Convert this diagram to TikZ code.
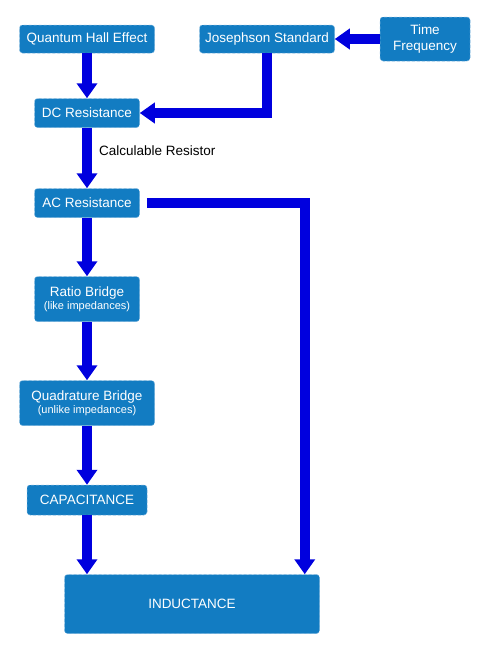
\documentclass[tikz,border=0pt]{standalone}
\usepackage{fontspec}
\setmainfont{Liberation Sans}
\usetikzlibrary{arrows.meta, positioning, calc}
\definecolor{BoxBlue}{RGB}{18,124,194}
\definecolor{BoxEdge}{RGB}{120,178,220}
\definecolor{FlowBlue}{RGB}{0,0,222}
\newcommand{\subnote}[1]{{\fontsize{11}{12.5}\selectfont #1}}

\begin{document}
\begin{tikzpicture}[
    x=1pt,
    y=-1pt,
    font=\fontsize{13.5}{15.5}\selectfont,
    block/.style={rectangle, rounded corners=3pt, fill=BoxBlue, draw=BoxEdge,
      densely dashed, line width=0.5pt, text=white, align=center, inner sep=0pt},
    flow/.style={draw=FlowBlue, line width=9.5pt, solid,
      -{Triangle[width=20pt,length=15pt]}}
]
\useasboundingbox (0,0) rectangle (492,648);

% Standards row
\node[block, minimum width=135, minimum height=28] (qhe) at (87,39) {Quantum Hall Effect};
\node[block, minimum width=135, minimum height=28] (js) at (267,39) {Josephson Standard};
\node[block, minimum width=90, minimum height=44] (tf) at (425,39) {Time\\Frequency};

% Resistance chain
\node[block, minimum width=105, minimum height=29] (dc) at (87,113) {DC Resistance};
\node[block, minimum width=105, minimum height=29] (ac) at (87,203) {AC Resistance};

% Bridges
\node[block, minimum width=105, minimum height=45] (ratio) at (87,299)
  {Ratio Bridge\\[-2pt]\subnote{(like impedances)}};
\node[block, minimum width=135, minimum height=45] (quad) at (87,403)
  {Quadrature Bridge\\[-2pt]\subnote{(unlike impedances)}};

% Outputs
\node[block, minimum width=120, minimum height=30] (cap) at (87,500) {CAPACITANCE};
\node[block, minimum width=255, minimum height=59] (ind) at (192,604) {INDUCTANCE};

% Connectors
\draw[flow] (tf.west) -- (js.east);
\draw[flow] (qhe.south) -- (dc.north);
\draw[flow] (js.south) |- (dc.east);
\draw[flow] (dc.south) -- (ac.north)
  node[pos=0.38, right=4pt, text=black] (calc) {Calculable Resistor};

\foreach \a/\b in {ac/ratio, ratio/quad, quad/cap}{
  \draw[flow] (\a.south) -- (\b.north);
}

\draw[flow] (cap.south) -- (cap.south |- ind.north);
\draw[flow, shorten <=7pt] (ac.east) -| ([xshift=-15]ind.north east);

\end{tikzpicture}
\end{document}
